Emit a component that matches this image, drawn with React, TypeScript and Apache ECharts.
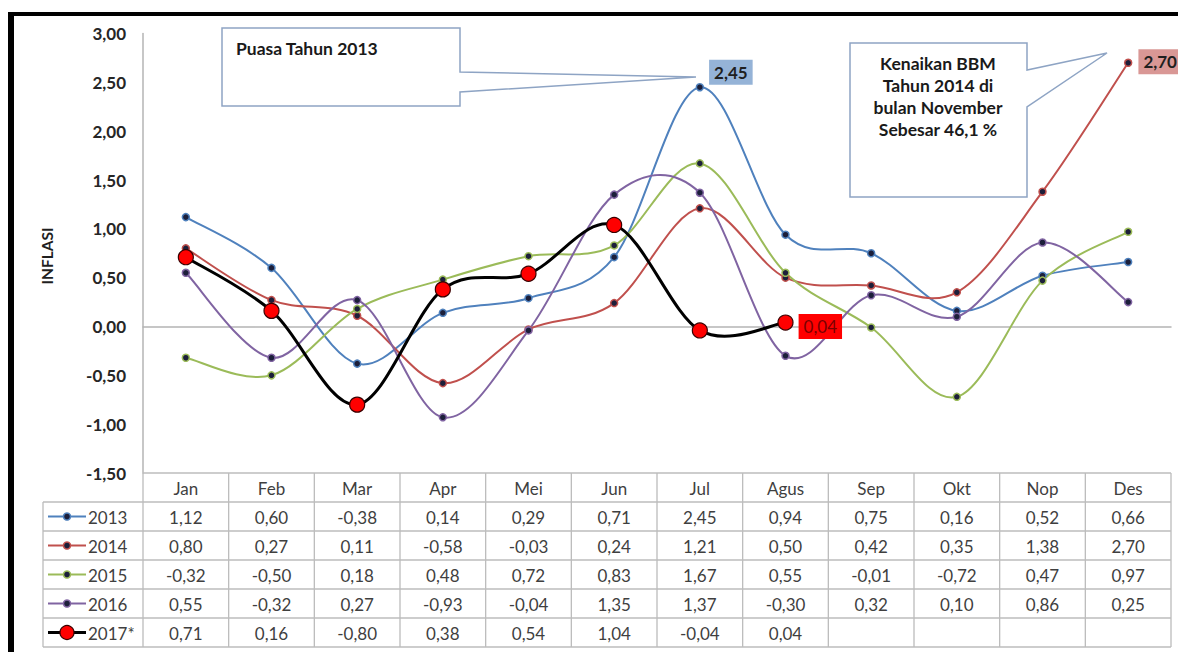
import React, { useEffect, useRef } from "react";
import * as echarts from "echarts";

const months = ["Jan", "Feb", "Mar", "Apr", "Mei", "Jun", "Jul", "Agus", "Sep", "Okt", "Nop", "Des"];
const yearNames = ["2013", "2014", "2015", "2016", "2017*"];
const v2013 = [1.12, 0.6, -0.38, 0.14, 0.29, 0.71, 2.45, 0.94, 0.75, 0.16, 0.52, 0.66];
const v2014 = [0.8, 0.27, 0.11, -0.58, -0.03, 0.24, 1.21, 0.5, 0.42, 0.35, 1.38, 2.7];
const v2015 = [-0.32, -0.5, 0.18, 0.48, 0.72, 0.83, 1.67, 0.55, -0.01, -0.72, 0.47, 0.97];
const v2016 = [0.55, -0.32, 0.27, -0.93, -0.04, 1.35, 1.37, -0.3, 0.32, 0.1, 0.86, 0.25];
const v2017 = [0.71, 0.16, -0.8, 0.38, 0.54, 1.04, -0.04, 0.04];
const yMin = -1.5;
const yMax = 3;
const yStep = 0.5;
const calloutPuasa = "Puasa Tahun 2013";
const calloutBBM = ["Kenaikan BBM", "Tahun 2014 di", "bulan November", "Sebesar 46,1 %"];

const seriesValues = [v2013, v2014, v2015, v2016, v2017];
const colors = ["#4f81bd", "#c0504d", "#9bbb59", "#8064a2", "#000000"];

const FONT = "Lato, 'Noto Sans', sans-serif";
const fmt = (v: number) => v.toFixed(2).replace(".", ",");

function curveSeries(k: number, width: number, z: number) {
  const vals = seriesValues[k];
  const n = vals.length;
  return {
    type: "custom",
    name: yearNames[k] + " curve",
    coordinateSystem: "cartesian2d",
    silent: true,
    z,
    data: vals.map((v, i) => [i, v]),
    encode: { x: 0, y: 1 },
    renderItem: (params: any, api: any) => {
      const i = params.dataIndex;
      if (i >= n - 1) return null;
      const P = (j: number) => {
        const c = Math.max(0, Math.min(n - 1, j));
        return api.coord([c, vals[c]]);
      };
      const p0 = P(i - 1);
      const p1 = P(i);
      const p2 = P(i + 1);
      const p3 = P(i + 2);
      return {
        type: "bezierCurve",
        shape: {
          x1: p1[0],
          y1: p1[1],
          x2: p2[0],
          y2: p2[1],
          cpx1: p1[0] + (p2[0] - p0[0]) / 6,
          cpy1: p1[1] + (p2[1] - p0[1]) / 6,
          cpx2: p2[0] - (p3[0] - p1[0]) / 6,
          cpy2: p2[1] - (p3[1] - p1[1]) / 6,
        },
        style: { stroke: colors[k], lineWidth: width, fill: "none" },
      };
    },
  };
}

export default function App() {
  const ref = useRef<HTMLDivElement>(null);
  useEffect(() => {
    const chart = echarts.init(ref.current!, null, { renderer: "svg" });
    const labelBase = {
      show: true,
      position: "right",
      padding: [4, 5, 4, 5],
      fontSize: 17,
      fontFamily: FONT,
    };
    const markerSeries = [0, 1, 2, 3].map((i) => ({
      name: yearNames[i],
      type: "line",
      data: seriesValues[i].map((v, j) => {
        const item: any = { value: v };
        if (i === 0 && j === 6) {
          item.label = {
            ...labelBase,
            distance: 5,
            offset: [0, -15],
            formatter: fmt(v),
            backgroundColor: "#95b3d7",
            color: "#1f1f1f",
            fontWeight: "bold",
          };
        }
        if (i === 1 && j === 11) {
          item.label = {
            ...labelBase,
            distance: 6,
            offset: [0, -1],
            formatter: fmt(v),
            backgroundColor: "#d99795",
            color: "#1f1f1f",
            fontWeight: "bold",
          };
        }
        return item;
      }),
      symbol: "circle",
      symbolSize: 7,
      lineStyle: { opacity: 0, width: 0 },
      itemStyle: { color: "#1c1f3a", borderColor: colors[i], borderWidth: 1.5 },
      z: 4,
    }));
    const marker2017 = {
      name: yearNames[4],
      type: "line",
      data: v2017.map((v, j) => {
        const item: any = { value: v };
        if (j === v2017.length - 1) {
          item.label = {
            ...labelBase,
            distance: 5,
            offset: [0, 4],
            formatter: fmt(v),
            backgroundColor: "#ff0000",
            color: "#7a0000",
          };
        }
        return item;
      }),
      symbol: "circle",
      symbolSize: 15,
      lineStyle: { opacity: 0, width: 0 },
      itemStyle: { color: "#ff0000", borderColor: "#3a0000", borderWidth: 1.2 },
      z: 10,
    };

    const gridLeft = 143;
    const gridRight = 7;
    const gridTop = 33.5;
    const gridBottom = 179;

    chart.setOption({
      animation: false,
      textStyle: { fontFamily: FONT },
      grid: { left: gridLeft, right: gridRight, top: gridTop, bottom: gridBottom },
      xAxis: {
        type: "category",
        data: months,
        boundaryGap: true,
        axisLine: { onZero: true, lineStyle: { color: "#b4b4b4", width: 1.5 } },
        axisTick: { show: false },
        axisLabel: { show: false },
        splitLine: { show: false },
      },
      yAxis: {
        type: "value",
        min: yMin,
        max: yMax,
        interval: yStep,
        axisLine: { show: true, lineStyle: { color: "#b4b4b4", width: 1.5 } },
        axisTick: { show: false },
        splitLine: { show: false },
        axisLabel: {
          formatter: (v: number) => fmt(v),
          color: "#262626",
          fontWeight: "bold",
          fontSize: 17,
          fontFamily: FONT,
          margin: 17,
        },
      },
      series: [
        curveSeries(0, 2, 2),
        curveSeries(1, 2, 2),
        curveSeries(2, 2, 2),
        curveSeries(3, 2, 2),
        ...markerSeries,
        curveSeries(4, 3, 8),
        marker2017,
      ],
    });

    // Data table built from the axis scale
    const colX = months.map((_, i) => chart.convertToPixel({ xAxisIndex: 0 }, i) as number);
    const colW = colX.length > 1 ? colX[1] - colX[0] : 85;
    const tableLeft = colX[0] - colW / 2;
    const tableRight = colX[colX.length - 1] + colW / 2;
    const headerTop = chart.convertToPixel({ yAxisIndex: 0 }, yMin) as number;
    const rowH = 29;
    const legendLeft = 43;
    const nRows = yearNames.length;
    const tableBottom = headerTop + rowH * (nRows + 1);
    const gridColor = "#bcbcbc";
    const textColor = "#3f3f3f";
    const g: any[] = [];
    const line = (x1: number, y1: number, x2: number, y2: number) =>
      g.push({ type: "line", shape: { x1, y1, x2, y2 }, style: { stroke: gridColor, lineWidth: 1.3 }, z: 1 });
    const text = (x: number, y: number, t: string, opts: any = {}) =>
      g.push({
        type: "text",
        x,
        y,
        z: 20,
        style: {
          text: t,
          fill: opts.fill || textColor,
          font: `${opts.weight || "normal"} ${opts.size || 17}px ${FONT}`,
          textAlign: opts.align || "center",
          textVerticalAlign: "middle",
          align: opts.align || "center",
          verticalAlign: "middle",
        },
        rotation: opts.rotation || 0,
      });

    line(tableLeft, headerTop, tableRight, headerTop);
    for (let r = 1; r <= nRows + 1; r++) {
      line(legendLeft, headerTop + r * rowH, tableRight, headerTop + r * rowH);
    }
    line(legendLeft, headerTop + rowH, legendLeft, tableBottom);
    for (let c = 0; c <= months.length; c++) {
      const x = tableLeft + c * colW;
      line(x, headerTop, x, tableBottom);
    }
    months.forEach((m, i) => text(colX[i], headerTop + rowH / 2 + 1, m));
    seriesValues.forEach((vals, r) => {
      const cy = headerTop + (r + 1) * rowH + rowH / 2 + 1;
      vals.forEach((v, i) => text(colX[i], cy, fmt(v)));
      const isLast = r === nRows - 1;
      g.push({
        type: "line",
        shape: { x1: legendLeft + 5, y1: cy - 1, x2: legendLeft + 43, y2: cy - 1 },
        style: { stroke: colors[r], lineWidth: isLast ? 3 : 2 },
        z: 5,
      });
      g.push({
        type: "circle",
        shape: { cx: legendLeft + 24, cy: cy - 1, r: isLast ? 7 : 3.5 },
        style: isLast
          ? { fill: "#ff0000", stroke: "#3a0000", lineWidth: 1.2 }
          : { fill: "#1c1f3a", stroke: colors[r], lineWidth: 1.5 },
        z: 6,
      });
      text(legendLeft + 45, cy, yearNames[r], { align: "left" });
    });

    // Y axis name
    text(47, 256, "INFLASI", { weight: "bold", size: 15.5, rotation: Math.PI / 2, fill: "#1f1f1f" });

    // Callout: Puasa
    g.push({
      type: "polygon",
      shape: {
        points: [
          [222, 28], [460, 28], [460, 72], [696, 77], [460, 92], [460, 106], [222, 106],
        ],
      },
      style: { fill: "#ffffff", stroke: "#8ea4c4", lineWidth: 1.5 },
      z: 15,
    });
    text(236, 48, calloutPuasa, { weight: "bold", size: 17.5, align: "left", fill: "#1a1a1a" });

    // Callout: BBM
    g.push({
      type: "polygon",
      shape: {
        points: [
          [850, 43], [1027, 43], [1027, 70], [1107, 53], [1027, 107], [1027, 197], [850, 197],
        ],
      },
      style: { fill: "#ffffff", stroke: "#8ea4c4", lineWidth: 1.5 },
      z: 15,
    });
    calloutBBM.forEach((t, i) => text(938, 63 + i * 22.3, t, { weight: "bold", size: 17.5, fill: "#1a1a1a" }));

    // Frame
    g.push({ type: "rect", shape: { x: 8, y: 12, width: 1172, height: 4 }, style: { fill: "#000" }, z: 30 });
    g.push({ type: "rect", shape: { x: 8, y: 12, width: 6, height: 650 }, style: { fill: "#000" }, z: 30 });

    chart.setOption({ graphic: g });
    return () => chart.dispose();
  }, []);
  return (
    <div
      ref={ref}
      style={{ position: "fixed", left: 0, top: 0, width: 1178, height: 652, background: "#ffffff" }}
    />
  );
}
